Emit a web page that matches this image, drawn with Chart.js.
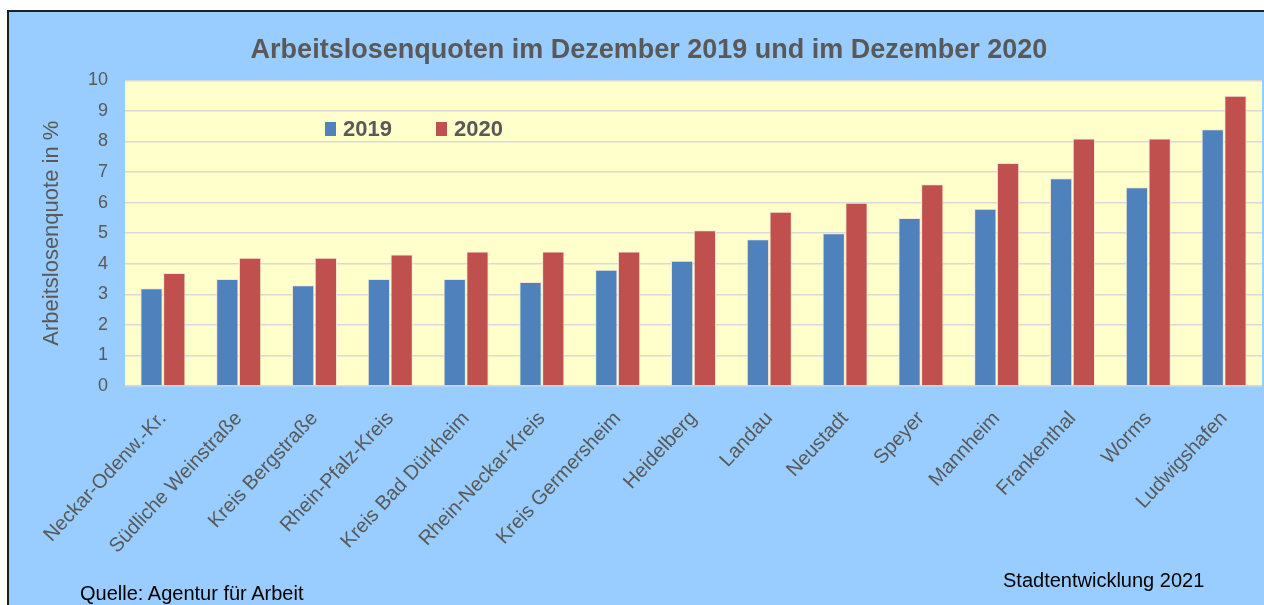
<!DOCTYPE html>
<html>
<head>
<meta charset="utf-8">
<script src="https://cdn.jsdelivr.net/npm/chart.js@4/dist/chart.umd.min.js"></script>
<style>
  html, body { margin: 0; padding: 0; background: #fff; }
  #wrap { position: relative; width: 1264px; height: 605px; overflow: hidden; }
  #frame { position: absolute; left: 7px; top: 10px; width: 1270px; height: 610px;
           background: #99ccff; border-left: 2px solid #1f1f1f; border-top: 2px solid #1f1f1f; }
  canvas { position: absolute; left: 0; top: 0; }
  .note { position: absolute; font-family: Arial, "Liberation Sans", sans-serif; font-size: 20px;
          color: #000; white-space: nowrap; line-height: 1; }
</style>
</head>
<body>
<div id="wrap">
  <div id="frame"></div>
  <canvas id="chart" width="1264" height="605"></canvas>
  <div class="note" style="left:80px; top:583px;">Quelle: Agentur für Arbeit</div>
  <div class="note" style="left:1003px; top:570px;">Stadtentwicklung 2021</div>
</div>
<script>
// Arbeitslosenquoten (in %) nach Kreis / Stadt
const regions = [
  'Neckar-Odenw.-Kr.', 'Südliche Weinstraße', 'Kreis Bergstraße', 'Rhein-Pfalz-Kreis',
  'Kreis Bad Dürkheim', 'Rhein-Neckar-Kreis', 'Kreis Germersheim', 'Heidelberg',
  'Landau', 'Neustadt', 'Speyer', 'Mannheim', 'Frankenthal', 'Worms', 'Ludwigshafen'
];
const quote2019 = [3.2, 3.5, 3.3, 3.5, 3.5, 3.4, 3.8, 4.1, 4.8, 5.0, 5.5, 5.8, 6.8, 6.5, 8.4];
const quote2020 = [3.7, 4.2, 4.2, 4.3, 4.4, 4.4, 4.4, 5.1, 5.7, 6.0, 6.6, 7.3, 8.1, 8.1, 9.5];
const yTicks = [0, 1, 2, 3, 4, 5, 6, 7, 8, 9, 10];

const FONT = 'Arial, "Liberation Sans", sans-serif';
const GREY = '#595959';

// yellow plot background
const plotBg = {
  id: 'plotBg',
  beforeDraw(chart) {
    const { ctx, chartArea: a } = chart;
    ctx.save();
    ctx.fillStyle = '#ffffcc';
    ctx.fillRect(a.left, a.top, a.right - a.left, a.bottom - a.top);
    ctx.restore();
  }
};

// legend sits inside the plot area, like the original
const innerLegend = {
  id: 'innerLegend',
  afterDraw(chart) {
    const { ctx } = chart;
    const xs = [325, 436];
    const y = 129;
    ctx.save();
    ctx.font = 'bold 22px ' + FONT;
    ctx.textBaseline = 'middle';
    chart.data.datasets.forEach((ds, i) => {
      ctx.fillStyle = ds.backgroundColor;
      ctx.fillRect(xs[i], y - 7, 11, 14);
      ctx.fillStyle = GREY;
      ctx.fillText(ds.label, xs[i] + 18, y + 1);
    });
    ctx.restore();
  }
};

new Chart(document.getElementById('chart'), {
  type: 'bar',
  data: {
    labels: regions,
    datasets: [
      { label: '2019', data: quote2019, backgroundColor: '#4f81bd', borderColor: '#f3e6d6', borderWidth: 1 },
      { label: '2020', data: quote2020, backgroundColor: '#c0504d', borderColor: '#f3e6d6', borderWidth: 1 }
    ]
  },
  options: {
    responsive: false,
    devicePixelRatio: 1,
    animation: false,
    layout: { padding: { left: 36, right: 2, top: 0, bottom: 0 } },
    datasets: { bar: { categoryPercentage: 0.6, barPercentage: 0.98 } },
    plugins: {
      legend: { display: false },
      tooltip: { enabled: false },
      title: {
        display: true,
        text: 'Arbeitslosenquoten im Dezember 2019 und im Dezember 2020',
        color: GREY,
        font: { family: FONT, size: 27, weight: 'bold', lineHeight: 1.2 },
        padding: { top: 34, bottom: 14 }
      }
    },
    scales: {
      x: {
        grid: { display: false, drawTicks: false },
        border: { display: false },
        ticks: {
          color: GREY,
          font: { family: FONT, size: 20 },
          minRotation: 47,
          maxRotation: 47,
          autoSkip: false,
          padding: 21
        },
        afterFit(scale) { scale.height = 219; }
      },
      y: {
        min: 0,
        max: 10,
        afterBuildTicks(scale) { scale.ticks = yTicks.map(v => ({ value: v })); },
        grid: { color: '#d9d9d9', lineWidth: 1.5, drawTicks: false },
        border: { display: false },
        ticks: { color: GREY, font: { family: FONT, size: 18 }, padding: 17 },
        title: {
          display: true,
          text: 'Arbeitslosenquote in %',
          color: GREY,
          font: { family: FONT, size: 22 },
          padding: { top: 3, bottom: 3 }
        },
        afterFit(scale) { scale.width = 89; }
      }
    }
  },
  plugins: [plotBg, innerLegend]
});
</script>
</body>
</html>
